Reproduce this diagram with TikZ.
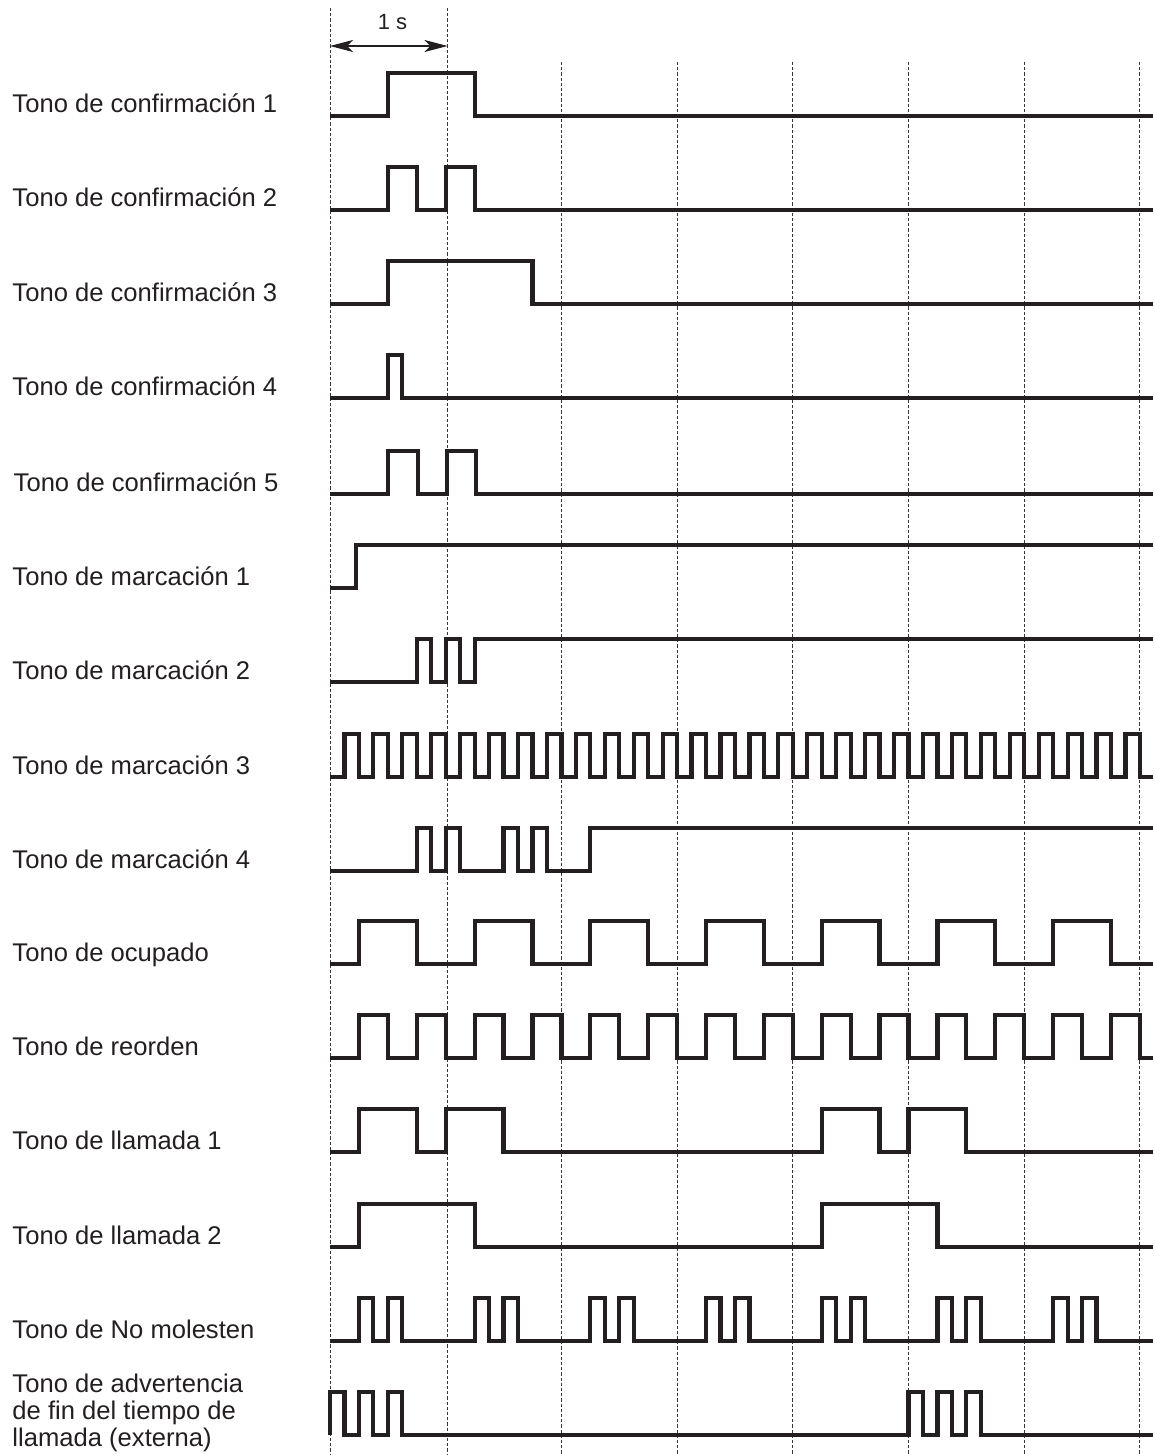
\documentclass[tikz,border=0pt]{standalone}
\usepackage{fontspec}
\setmainfont{Liberation Sans}
\usetikzlibrary{arrows.meta}
\definecolor{ink}{HTML}{231F20}
\begin{document}
\begin{tikzpicture}[x=1pt,y=-1pt,
  wave/.style={line width=4.2pt, draw=ink, line join=miter, line cap=butt},
  gridline/.style={line width=1pt, draw=ink!90, dash pattern=on 3.2pt off 2pt},
  lbl/.style={anchor=base west, inner sep=0pt, font=\fontsize{25.6}{27}\selectfont, text=ink, align=left},
  dim/.style={line width=1.1pt, draw=ink, {Stealth[length=23pt,width=12pt,inset=6pt]}-{Stealth[length=23pt,width=12pt,inset=6pt]}}]
\useasboundingbox (0,0) rectangle (1154,1455);
% grid
\foreach \t/\tp in {330/8, 447.5/8, 561.4/62, 677.1/62, 792.8/62, 908.5/62, 1024.2/62, 1139.9/62}
  \draw[gridline] (\t,\tp) -- (\t,1455);
% scale
\coordinate (s0) at (330,46);
\coordinate (s1) at (447.5,46);
\draw[dim] (s0) -- (s1);
\node[anchor=base, inner sep=0pt, font=\fontsize{22}{24}\selectfont, text=ink] (scale) at (392.5,30) {1 s};
% labels
\node[lbl] (l1) at (12.3,113) {Tono de confirmación 1};
\node[lbl] (l2) at (12.3,207) {Tono de confirmación 2};
\node[lbl] (l3) at (12.3,301) {Tono de confirmación 3};
\node[lbl] (l4) at (12.3,395) {Tono de confirmación 4};
\node[lbl] (l5) at (13.5,491) {Tono de confirmación 5};
\node[lbl] (l6) at (12.3,585) {Tono de marcación 1};
\node[lbl] (l7) at (12.3,679) {Tono de marcación 2};
\node[lbl] (l8) at (12.3,774) {Tono de marcación 3};
\node[lbl] (l9) at (12.3,868) {Tono de marcación 4};
\node[lbl] (l10) at (12.3,961) {Tono de ocupado};
\node[lbl] (l11) at (12.3,1055) {Tono de reorden};
\node[lbl] (l12) at (12.3,1149) {Tono de llamada 1};
\node[lbl] (l13) at (12.3,1244) {Tono de llamada 2};
\node[lbl] (l14) at (12.3,1338) {Tono de No molesten};
\node[lbl] (l15) at (12.3,1446) {Tono de advertencia\\de fin del tiempo de\\llamada (externa)};
% waveforms
\begin{scope}[x=115.7pt, xshift=330pt]
\def\e{7.113}
\draw[wave] (0,116) -| (0.5,73) -| (1.25,116) -- (\e,116);
\draw[wave] (0,210) -| (0.5,167) -| (0.75,210) -| (1,167) -| (1.25,210) -- (\e,210);
\draw[wave] (0,304) -| (0.5,261) -| (1.75,304) -- (\e,304);
\draw[wave] (0,398) -| (0.5,355) -| (0.625,398) -- (\e,398);
\draw[wave] (0,494) -| (0.5,451) -| (0.76,494) -| (1.01,451) -| (1.26,494) -- (\e,494);
\draw[wave] (0,588) -| (0.225,545) -- (\e,545);
\draw[wave] (0,682) -| (0.75,639) -| (0.875,682) -| (1,639) -| (1.125,682) -| (1.25,639) -- (\e,639);
\draw[wave] (0,777) \foreach \k in {0,...,27} { -| ({\k*0.25+0.125},734) -| ({\k*0.25+0.25},777) } -- (\e,777);
\draw[wave] (0,871) -| (0.75,828) -| (0.875,871) -| (1,828) -| (1.125,871) -| (1.5,828) -| (1.625,871) -| (1.75,828) -| (1.875,871) -| (2.25,828) -- (\e,828);
\draw[wave] (0,964) \foreach \k in {0,...,6} { -| ({\k+0.25},921) -| ({\k+0.75},964) } -- (\e,964);
\draw[wave] (0,1058) \foreach \k in {0,...,13} { -| ({\k*0.5+0.25},1015) -| ({\k*0.5+0.5},1058) } -- (\e,1058);
\draw[wave] (0,1152) -| (0.25,1109) -| (0.75,1152) -| (1,1109) -| (1.5,1152) -| (4.25,1109) -| (4.75,1152) -| (5,1109) -| (5.5,1152) -- (\e,1152);
\draw[wave] (0,1247) -| (0.25,1204) -| (1.25,1247) -| (4.25,1204) -| (5.25,1247) -- (\e,1247);
\draw[wave] (0,1341) \foreach \k in {0,...,6} { -| ({\k+0.25},1298) -| ({\k+0.375},1341) -| ({\k+0.5},1298) -| ({\k+0.625},1341) } -- (\e,1341);
\draw[wave] (0,1435) -- (0,1392) -| (0.125,1435) -| (0.25,1392) -| (0.375,1435) -| (0.5,1392) -| (0.625,1435) -| (5,1392) -| (5.125,1435) -| (5.25,1392) -| (5.375,1435) -| (5.5,1392) -| (5.625,1435) -- (\e,1435);
\end{scope}
\end{tikzpicture}
\end{document}
